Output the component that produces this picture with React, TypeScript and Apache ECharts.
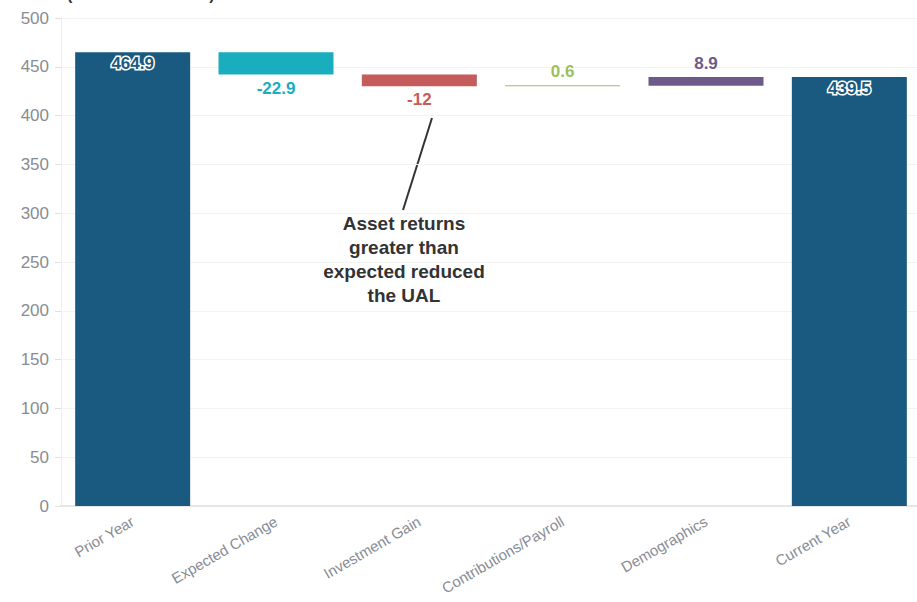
import React, { useEffect, useRef } from "react";
import * as echarts from "echarts";

const categories = ["Prior Year", "Expected Change", "Investment Gain", "Contributions/Payroll", "Demographics", "Current Year"];
const changes = [464.9, -22.9, -12, 0.6, 8.9, 439.5];
const isTotal = [true, false, false, false, false, true];
const colors = ["#1b5a80", "#1aadbd", "#c65b5b", "#9cbf5c", "#6d5a8a", "#1b5a80"];
const yTicks = { min: 0, max: 500, interval: 50 };
const annotation = ["Asset returns", "greater than", "expected reduced", "the UAL"];

export default function App() {
  const ref = useRef<HTMLDivElement>(null);
  useEffect(() => {
    if (!ref.current) return;
    const chart = echarts.init(ref.current, undefined, { renderer: "svg" });
    const base: number[] = [];
    const heights: number[] = [];
    let running = 0;
    changes.forEach((v, i) => {
      if (isTotal[i]) {
        base.push(0);
        heights.push(v);
        running = v;
      } else {
        const next = running + v;
        base.push(Math.min(running, next));
        heights.push(Math.abs(v));
        running = next;
      }
    });
    const font = "'Liberation Sans', Arial, Helvetica, sans-serif";
    chart.setOption({
      animation: false,
      grid: { left: 61, right: 4, top: 18, bottom: 96, containLabel: false },
      xAxis: {
        type: "category",
        data: categories,
        axisLine: { lineStyle: { color: "#e6e6e6", width: 2 } },
        axisTick: { alignWithLabel: true, lineStyle: { color: "#e6e6e6" }, length: 6 },
        axisLabel: { rotate: 30, color: "#888c94", fontSize: 15, fontFamily: font, interval: 0, margin: 14 },
      },
      yAxis: {
        type: "value",
        min: yTicks.min,
        max: yTicks.max,
        interval: yTicks.interval,
        axisLine: { show: true, lineStyle: { color: "#eeeeee" } },
        axisTick: { show: true, lineStyle: { color: "#e0e0e0" }, length: 6 },
        axisLabel: { color: "#888c94", fontSize: 17, fontFamily: font, margin: 12 },
        splitLine: { lineStyle: { color: "#f3f3f3" } },
      },
      series: [
        {
          type: "bar",
          stack: "w",
          data: base,
          itemStyle: { color: "transparent" },
          silent: true,
          barWidth: 115,
        },
        {
          type: "bar",
          stack: "w",
          barWidth: 115,
          barMinHeight: 1,
          data: heights.map((h, i) => {
            const v = changes[i];
            let label: any;
            if (isTotal[i]) {
              label = {
                show: true,
                position: "insideTop",
                distance: 3,
                formatter: String(v),
                color: colors[i],
                textBorderColor: "#ffffff",
                textBorderWidth: 3,
                fontWeight: "bold",
                fontSize: 17,
                fontFamily: font,
              };
            } else {
              label = {
                show: true,
                position: v < 0 ? "bottom" : "top",
                distance: 5,
                formatter: String(v),
                color: colors[i],
                fontWeight: "bold",
                fontSize: 17,
                fontFamily: font,
              };
            }
            return {
              value: h,
              itemStyle: { color: colors[i] },
              label,
            };
          }),
        },
      ],
      graphic: [
        {
          type: "text",
          left: 67,
          top: -14,
          style: { text: "(Dollars in Millions)", font: `bold 16px ${font}`, fill: "#333" },
        },
        {
          type: "line",
          shape: { x1: 432, y1: 118, x2: 403, y2: 210 },
          style: { stroke: "#333", lineWidth: 2 },
        },
        {
          type: "text",
          x: 404,
          y: 211,
          style: {
            text: annotation.join("\n"),
            font: `bold 19px ${font}`,
            fill: "#333",
            align: "center",
            verticalAlign: "top",
            lineHeight: 24,
          },
        },
      ],
    });
    return () => chart.dispose();
  }, []);
  return (
    <div style={{ width: 917, height: 602, position: "absolute", left: 0, top: 0, overflow: "hidden" }}>
      <div ref={ref} style={{ width: 925, height: 602, position: "absolute", left: 0, top: 0 }} />
    </div>
  );
}
